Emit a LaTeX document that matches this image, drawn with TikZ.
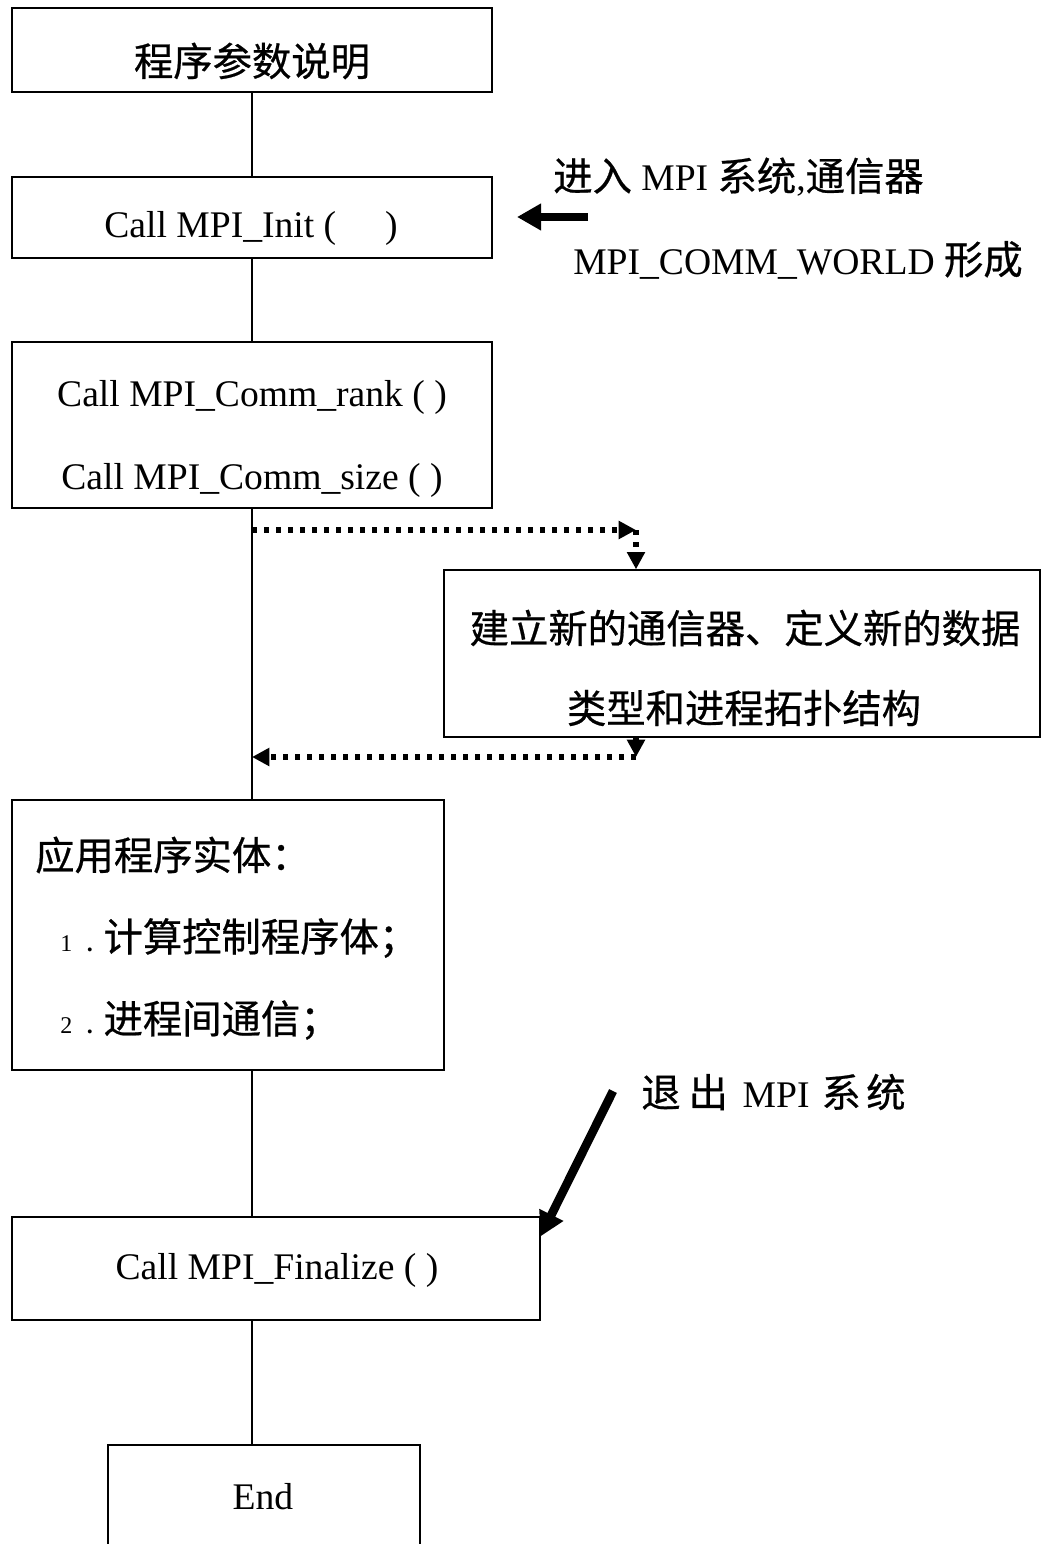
\documentclass[tikz,border=0pt]{standalone}
\usepackage{fontspec}
\setmainfont{Liberation Serif}
\newfontfamily\cjk[FakeBold=0.6]{Noto Sans CJK SC}
\usetikzlibrary{positioning, arrows.meta}
\newcommand{\zh}[1]{{\cjk\fontsize{29.5}{34}\selectfont #1}}
\newcommand{\numsm}[1]{{\fontsize{18}{20}\selectfont #1\hspace{11pt}\textbf{.}}\hspace{8pt}}

\begin{document}
\begin{tikzpicture}[x=0.75pt, y=-0.75pt,
		font=\fontsize{28.2}{34}\selectfont,
		box/.style={draw, line width=1pt, rectangle, inner sep=0pt},
		txt/.style={inner sep=0pt},
		trunk/.style={line width=1pt},
		dotline/.style={line width=4.5pt, dash pattern=on 4pt off 5pt, -{Triangle[length=13pt, width=13pt]}},
		fatarrow/.style={line width=6.5pt, -{Triangle[length=18pt, width=19pt]}}]
		\useasboundingbox (0,0) rectangle (1041,1544);
		% boxes
		\node[box, minimum width=360pt, minimum height=63pt] (params) at (252,50) {};
		\node[box, minimum width=360pt, minimum height=60.75pt] (init) at (252,217.5) {};
		\node[box, minimum width=360pt, minimum height=124.5pt] (ranks) at (252,425) {};
		\node[box, minimum width=447pt, minimum height=125.25pt] (newcomm) at (742,653.5) {};
		\node[box, minimum width=324pt, minimum height=202.5pt] (app) at (228,935) {};
		\node[box, minimum width=396pt, minimum height=77.25pt] (final) at (276,1268.5) {};
		\node[box, minimum width=234pt, minimum height=120pt] (fin) at (264,1525) {};
		% texts
		\node[txt] (paramstxt) at (252,61) {\zh{程序参数说明}};
		\node[txt] (inittxt) at (251,228) {Call MPI\_Init (\hspace{1.3em})};
		\node[txt] (ranktxt) at (252,397) {Call MPI\_Comm\_rank ( )};
		\node[txt] (sizetxt) at (252,480) {Call MPI\_Comm\_size ( )};
		\node[txt] (newtxta) at (745,628) {\zh{建立新的通信器、定义新的数据}};
		\node[txt] (newtxtb) at (744,708) {\zh{类型和进程拓扑结构}};
		\node[txt, anchor=west] (apptxt) at (35,855) {\zh{应用程序实体：}};
		\node[txt, anchor=west] (apptxta) at (60,938) {\numsm{1}\zh{计算控制程序体；}};
		\node[txt, anchor=west] (apptxtb) at (60,1020) {\numsm{2}\zh{进程间通信；}};
		\node[txt] (finaltxt) at (277,1270) {Call MPI\_Finalize ( )};
		\node[txt] (endtxt) at (263,1497) {End};
		\node[txt, anchor=west] (entertxta) at (553,177) {\zh{进入} MPI \zh{系统},\zh{通信器}};
		\node[txt, anchor=west] (entertxtb) at (573,260) {MPI\_COMM\_WORLD \zh{形成}};
		\node[txt, anchor=west] (exittxt) at (641,1092) {\zh{退\hspace{6pt}出}\hspace{4pt} MPI \hspace{2pt}\zh{系\hspace{4pt}统}};
		% trunk
		\draw[trunk] (params.south) -- (init.north);
		\draw[trunk] (init.south) -- (ranks.north);
		\draw[trunk] (ranks.south) -- (ranks.south |- app.north);
		\draw[trunk] (ranks.south |- app.south) -- (ranks.south |- final.north);
		\draw[trunk] (ranks.south |- final.south) -- (ranks.south |- fin.north);
		% side branch
		\coordinate (split) at (252,530);
		\coordinate (bendA) at (636,530);
		\coordinate (bendB) at (636,757);
		\coordinate (merge) at (252,757);
		\draw[dotline] (split) -- (bendA);
		\draw[dotline] (bendA) -- (bendA |- newcomm.north);
		\draw[dotline] (bendB |- newcomm.south) -- (bendB);
		\draw[dotline] (bendB) -- (merge);
		% thick arrows
		\coordinate (entertail) at (588,217);
		\coordinate (enterhead) at (517,217);
		\draw[fatarrow] (entertail) -- (enterhead);
		\coordinate (exittail) at (613,1091);
		\draw[fatarrow] (exittail) -- ([yshift=-15pt]final.north east);
	\end{tikzpicture}
\end{document}
